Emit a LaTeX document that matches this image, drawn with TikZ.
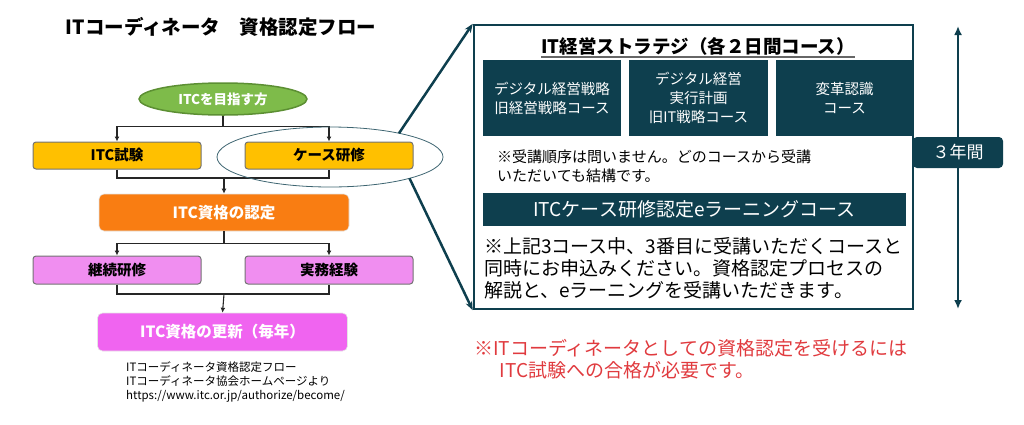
\documentclass[tikz,border=0pt]{standalone}
\usepackage{fontspec}
\setmainfont{Noto Sans CJK JP}
\usepackage{tikz}
\usetikzlibrary{shapes,arrows.meta}

\definecolor{itcteal}{HTML}{0E3F4E}
\definecolor{itcgreen}{HTML}{7EBB4A}
\definecolor{itcgreendark}{HTML}{5C8F33}
\definecolor{itcyellow}{HTML}{FFC000}
\definecolor{itcorange}{HTML}{F97D12}
\definecolor{itcviolet}{HTML}{F08EF0}
\definecolor{itcmagenta}{HTML}{F064F0}
\definecolor{itcred}{HTML}{E03A3E}

\tikzset{
  flowbox/.style={rectangle, rounded corners=3pt, draw=black!55, line width=1pt,
    minimum width=168, minimum height=27, font=\bfseries\fontsize{14.5}{14.5}\selectfont},
  mainbox/.style={rectangle, rounded corners=5pt, draw=black!10, line width=0.6pt,
    minimum width=250, minimum height=37, text=white, font=\bfseries\fontsize{15.5}{15.5}\selectfont},
  flowline/.style={draw=black!85, line width=1.1pt},
  darkbox/.style={rectangle, fill=itcteal, text=white, align=center, inner sep=0pt,
    minimum height=76, font=\fontsize{14.5}{19}\selectfont},
  tealline/.style={draw=itcteal, line width=2.5pt},
}

\begin{document}
\begin{tikzpicture}[x=1pt,y=-1pt,>={Latex[length=5pt,width=5pt]}]
\useasboundingbox (0,0) rectangle (1024,424);

\node[font=\bfseries\fontsize{19.5}{19.5}\selectfont] (title) at (221,27) {ITコーディネータ　資格認定フロー};

% flow on the left
\node[ellipse, fill=itcgreen, draw=itcgreendark, line width=1.5pt, minimum width=168, minimum height=32,
  text=white, font=\bfseries\fontsize{13.5}{13.5}\selectfont] (aim) at (223,99) {ITCを目指す方};

\node[flowbox, fill=itcyellow] (exam) at (117,155.5) {ITC試験};
\node[flowbox, fill=itcyellow] (case) at (329,155.5) {ケース研修};

\node[mainbox, fill=itcorange] (cert) at (224,212.5) {ITC資格の認定};

\node[flowbox, fill=itcviolet, minimum height=28] (cpd) at (117,270) {継続研修};
\node[flowbox, fill=itcviolet, minimum height=28] (prac) at (329,270) {実務経験};

\node[mainbox, fill=itcmagenta, minimum height=38] (renew) at (222.5,332) {ITC資格の更新（毎年）};

\draw[flowline] (aim.south) -- ++(0,11) coordinate (s1);
\draw[flowline,->] (s1) -| (exam.north);
\draw[flowline,->] (s1) -| (case.north);

\coordinate (j1) at (224,178);
\draw[flowline] (exam.south) |- (j1) -| (case.south);
\draw[flowline,->] (j1) -- (cert.north);

\draw[flowline] (cert.south) -- ++(0,12) coordinate (s2);
\draw[flowline,->] (s2) -| (cpd.north);
\draw[flowline,->] (s2) -| (prac.north);

\coordinate (j2) at (224,294);
\draw[flowline] (cpd.south) |- (j2) -| (prac.south);
\draw[flowline,->] (j2) -- (renew.north);

\node[anchor=north west, align=left, inner sep=0pt, font=\fontsize{11.5}{14}\selectfont] (source) at (126,361)
  {ITコーディネータ資格認定フロー\\ITコーディネータ協会ホームページより\\https://www.itc.or.jp/authorize/become/};

\node[ellipse, draw=itcteal!80, line width=0.8pt, outer sep=0pt, minimum width=226, minimum height=60] (ring) at (330,157) {};

% panel on the right
\coordinate (ytop) at (958,26);
\coordinate (ybot) at (958,309);
\draw[itcteal, line width=2pt, {Latex[length=9pt,width=8pt]}-{Latex[length=9pt,width=8pt]}] (ybot) -- (ytop);
\node[rectangle, rounded corners=4pt, fill=itcteal, text=white, minimum width=90, minimum height=31,
  font=\fontsize{17}{17}\selectfont] (years) at (958,152.5) {３年間};

\node[inner sep=0pt, font=\bfseries\fontsize{18.5}{18.5}\selectfont] (stitle) at (698,46) {IT経営ストラテジ（各２日間コース）};
\draw[gray!80!black, line width=1.5pt] ([yshift=-4pt]stitle.base west) -- ([yshift=-4pt]stitle.base east);

\node[darkbox, minimum width=138] (c1) at (552,98) {デジタル経営戦略\\旧経営戦略コース};
\node[darkbox, minimum width=139] (c2) at (698.5,98) {デジタル経営\\実行計画\\旧IT戦略コース};
\node[darkbox, minimum width=137] (c3) at (844.5,98) {変革認識\\コース};

\node[anchor=north west, align=left, inner sep=0pt, font=\fontsize{15}{19}\selectfont] (order) at (497,150)
  {※受講順序は問いません。どのコースから受講\\いただいても結構です。};

\node[rectangle, fill=itcteal, text=white, minimum width=423, minimum height=33,
  font=\fontsize{19}{19}\selectfont] (elearn) at (694.5,209.5) {ITCケース研修認定eラーニングコース};

\node[anchor=north west, align=left, inner sep=0pt, font=\fontsize{19}{22}\selectfont] (apply) at (484,237)
  {※上記3コース中、3番目に受講いただくコースと\\同時にお申込みください。資格認定プロセスの\\解説と、eラーニングを受講いただきます。};

\node[draw=itcteal, line width=2.5pt, minimum width=439, minimum height=284] (panel) at (693.5,167) {};

\draw[tealline, -{Stealth[length=9pt,width=7pt]}] (ring.19) -- (panel.north west);
\draw[tealline, -{Stealth[length=9pt,width=7pt]}] (ring.-15) -- (panel.south west);

\node[anchor=north west, align=left, inner sep=0pt, text=itcred, font=\fontsize{19}{22}\selectfont] (must) at (474,339)
  {※ITコーディネータとしての資格認定を受けるには\\\hspace*{1.35em}ITC試験への合格が必要です。};

\end{tikzpicture}
\end{document}
